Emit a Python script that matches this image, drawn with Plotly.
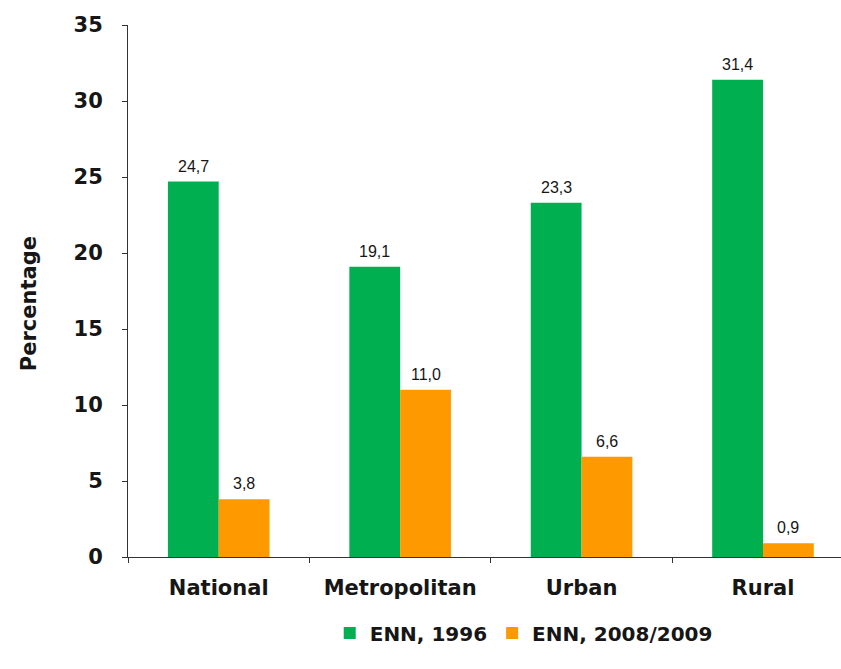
import plotly.graph_objects as go

categories = ["National", "Metropolitan", "Urban", "Rural"]
enn_1996 = [24.7, 19.1, 23.3, 31.4]
enn_2008 = [3.8, 11.0, 6.6, 0.9]
y_ticks = [0, 5, 10, 15, 20, 25, 30, 35]

GREEN = "#00B050"
ORANGE = "#FF9900"
BOLD_FONT = "DejaVu Sans, Verdana, sans-serif"
LABEL_FONT = "Liberation Sans, Arial, sans-serif"
INK = "#161616"

fig = go.Figure()
fig.add_trace(go.Bar(
    x=categories, y=enn_1996, name="<b>ENN, 1996</b>",
    marker=dict(color=GREEN, line=dict(width=0)),
    offsetgroup="a",
))
fig.add_trace(go.Bar(
    x=categories, y=enn_2008, name="<b>ENN, 2008/2009</b>",
    marker=dict(color=ORANGE, line=dict(width=0)),
    offsetgroup="b",
))

# value labels above each bar, with comma as decimal separator
bar_half = 0.28
for i, cat in enumerate(categories):
    for val, shift in ((enn_1996[i], -bar_half / 2), (enn_2008[i], bar_half / 2)):
        fig.add_annotation(
            x=i + shift, y=val, xref="x", yref="y",
            text=f"{val:.1f}".replace(".", ","),
            showarrow=False, yanchor="bottom", xanchor="center", yshift=5,
            font=dict(size=16, family=LABEL_FONT, color=INK),
        )

# rotated y-axis title
fig.add_annotation(
    x=-0.139, y=0.477, xref="paper", yref="paper",
    text="<b>Percentage</b>", textangle=-90, showarrow=False,
    xanchor="center", yanchor="middle",
    font=dict(size=21, family=BOLD_FONT, color=INK),
)

fig.update_layout(
    width=841, height=669,
    margin=dict(l=128, r=0, t=25, b=112),
    paper_bgcolor="white", plot_bgcolor="white",
    barmode="group", bargap=0.44, bargroupgap=0,
    font=dict(family=BOLD_FONT, color=INK),
    showlegend=True,
    legend=dict(
        orientation="h", x=0.555, xanchor="center", y=-0.143, yanchor="middle",
        font=dict(size=20, family=BOLD_FONT, color=INK),
        itemwidth=30, traceorder="normal",
    ),
    xaxis=dict(
        range=[-0.5, 3.43], showline=True, linecolor="#333333", linewidth=1,
        ticks="outside", tickson="boundaries", ticklen=5, tickcolor="#333333",
        tickfont=dict(size=21, family=BOLD_FONT, color=INK),
        tickvals=list(range(len(categories))),
        ticktext=[f"<b>{c}</b>" for c in categories],
        ticklabelstandoff=12,
        showgrid=False, zeroline=False,
    ),
    yaxis=dict(
        range=[0, 35], tickvals=y_ticks, ticktext=[f"<b>{v}</b>" for v in y_ticks],
        showline=True, linecolor="#333333", linewidth=1,
        ticks="outside", ticklen=5, tickcolor="#333333",
        tickfont=dict(size=21, family=BOLD_FONT, color=INK),
        ticklabelstandoff=15,
        showgrid=False, zeroline=False,
    ),
)

fig.write_html("out.html")
